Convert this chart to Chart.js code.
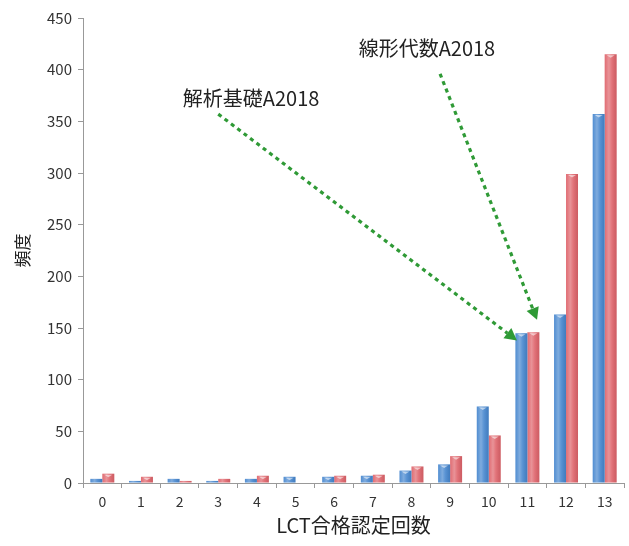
<!DOCTYPE html>
<html><head><meta charset="utf-8">
<script src="https://cdn.jsdelivr.net/npm/chart.js@4"></script>
<style>html,body{margin:0;padding:0;background:#fff}#wrap{width:629px;height:546px}</style>
</head><body><div id="wrap"><canvas id="c" width="629" height="546"></canvas></div>
<script>
const categories = ['0','1','2','3','4','5','6','7','8','9','10','11','12','13'];
const seriesKiso = [4, 2, 4, 2, 4, 6, 6, 7, 12, 18, 74, 145, 163, 357];
const seriesSenkei = [9, 6, 2, 4, 7, 0, 7, 8, 16, 26, 46, 146, 299, 415];
const yTicks = [0, 50, 100, 150, 200, 250, 300, 350, 400, 450];

const FONT = '"Noto Sans CJK JP", "Noto Sans", sans-serif';

const notes = [
  {text: '解析基礎A2018', x: 3.85, y: 372, from: [3.0, 357], to: [10.73, 138]},
  {text: '線形代数A2018', x: 8.40, y: 421, from: [8.74, 396], to: [11.25, 158]}
];

const shinePlugin = {
  id: 'shine',
  afterDatasetDraw(chart, args) {
    const ctx = chart.ctx;
    const meta = args.meta;
    ctx.save();
    meta.data.forEach(el => {
      const w = el.width, left = el.x - w / 2, top = el.y, bottom = el.base;
      if (bottom - top < 0.5) return;
      const g = ctx.createLinearGradient(left, 0, left + w, 0);
      g.addColorStop(0, 'rgba(255,255,255,0.05)');
      g.addColorStop(0.35, 'rgba(255,255,255,0.3)');
      g.addColorStop(0.6, 'rgba(255,255,255,0.1)');
      g.addColorStop(1, 'rgba(0,0,0,0.08)');
      ctx.fillStyle = g;
      ctx.fillRect(left, top, w, bottom - top);
      if (bottom - top > 4) {
        ctx.fillStyle = 'rgba(255,255,255,0.55)';
        ctx.beginPath();
        ctx.moveTo(left + 2, top + 1);
        ctx.lineTo(left + w - 2, top + 1);
        ctx.lineTo(el.x, top + 3.5);
        ctx.closePath();
        ctx.fill();
      }
    });
    ctx.restore();
  }
};

const notePlugin = {
  id: 'notes',
  afterDraw(chart) {
    const ctx = chart.ctx, xs = chart.scales.x, ys = chart.scales.y;
    ctx.save();
    notes.forEach(n => {
      ctx.font = '20px ' + FONT;
      ctx.fillStyle = '#222';
      ctx.textAlign = 'center';
      ctx.textBaseline = 'middle';
      ctx.fillText(n.text, xs.getPixelForValue(n.x), ys.getPixelForValue(n.y));
      const x1 = xs.getPixelForValue(n.from[0]), y1 = ys.getPixelForValue(n.from[1]);
      const x2 = xs.getPixelForValue(n.to[0]), y2 = ys.getPixelForValue(n.to[1]);
      const ang = Math.atan2(y2 - y1, x2 - x1);
      const hl = 12, hw = 6.5;
      const bx = x2 - hl * Math.cos(ang), by = y2 - hl * Math.sin(ang);
      ctx.strokeStyle = '#2f9a36';
      ctx.lineWidth = 3.2;
      ctx.setLineDash([4, 4]);
      ctx.beginPath(); ctx.moveTo(x1, y1); ctx.lineTo(bx, by); ctx.stroke();
      ctx.setLineDash([]);
      ctx.fillStyle = '#2f9a36';
      ctx.beginPath();
      ctx.moveTo(x2, y2);
      ctx.lineTo(bx + hw * Math.sin(ang), by - hw * Math.cos(ang));
      ctx.lineTo(bx - hw * Math.sin(ang), by + hw * Math.cos(ang));
      ctx.closePath(); ctx.fill();
    });
    ctx.restore();
  }
};

new Chart(document.getElementById('c'), {
  type: 'bar',
  data: {
    labels: categories,
    datasets: [
      {label: '解析基礎A2018', data: seriesKiso, backgroundColor: '#4787cf', categoryPercentage: 0.62, barPercentage: 1},
      {label: '線形代数A2018', data: seriesSenkei, backgroundColor: '#df646b', categoryPercentage: 0.62, barPercentage: 1}
    ]
  },
  options: {
    responsive: false,
    animation: false,
    layout: {padding: {left: 0, right: 5, top: 18, bottom: 0}},
    plugins: {legend: {display: false}, tooltip: {enabled: false}},
    scales: {
      x: {
        afterFit(s) { s.height = 63; },
        grid: {drawOnChartArea: false, drawTicks: true, tickLength: 5, color: '#999', offset: true},
        border: {color: '#999'},
        ticks: {color: '#333', font: {family: FONT, size: 14}, padding: 5},
        title: {display: true, text: 'LCT合格認定回数', color: '#222', font: {family: FONT, size: 20}, padding: {top: 2, bottom: 9}}
      },
      y: {
        min: 0, max: 450,
        afterFit(s) { s.width = 83; },
        afterBuildTicks(s) { s.ticks = yTicks.map(v => ({value: v})); },
        grid: {drawOnChartArea: false, drawTicks: true, tickLength: 5, color: '#999'},
        border: {color: '#999'},
        ticks: {color: '#333', font: {family: FONT, size: 15}, padding: 6},
        title: {display: true, text: '頻度', color: '#222', font: {family: FONT, size: 17}, padding: {top: 12, bottom: 0}}
      }
    }
  },
  plugins: [shinePlugin, notePlugin]
});
</script></body></html>
